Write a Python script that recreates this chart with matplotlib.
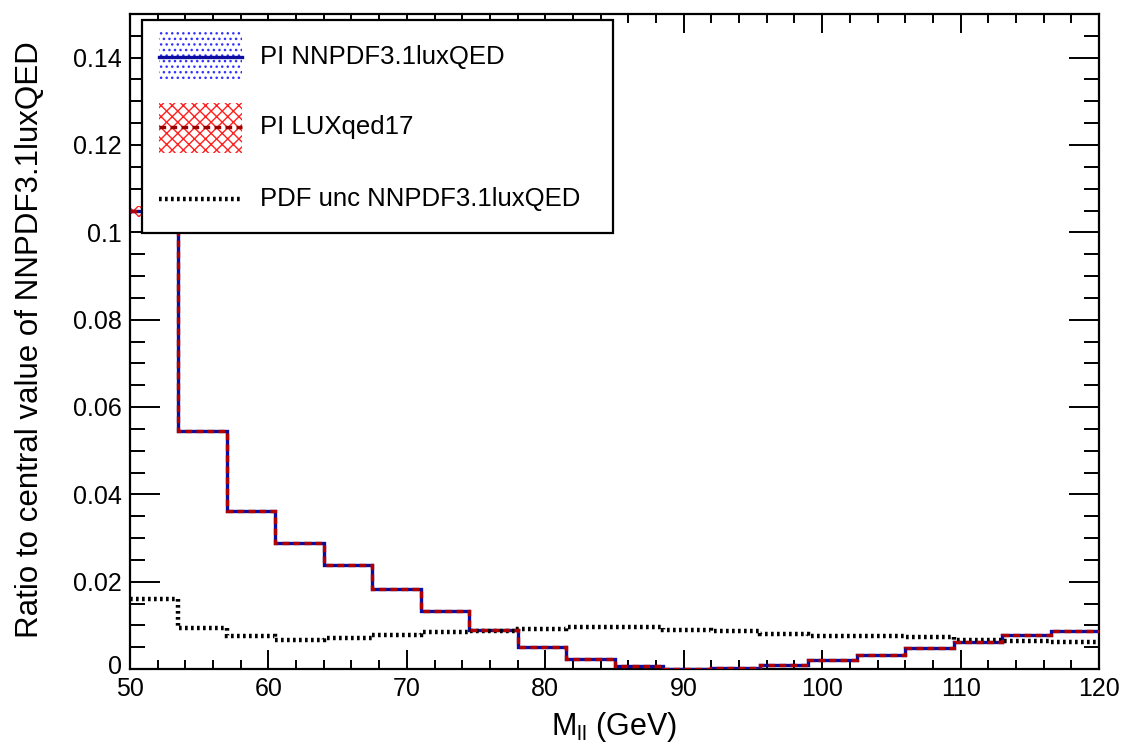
import numpy as np
import matplotlib
matplotlib.use("Agg")
import matplotlib.pyplot as plt
import matplotlib.transforms as mtransforms
from matplotlib.patches import Rectangle
from matplotlib.lines import Line2D
from matplotlib.ticker import MultipleLocator

# Bin edges in M_ll (GeV): 20 bins of 3.5 GeV from 50 to 120
bin_edges = np.linspace(50.0, 120.0, 21)

# Photon-induced contribution, ratio to NNPDF3.1luxQED central value
pi_nnpdf = [0.1048, 0.0545, 0.0362, 0.0289, 0.0238, 0.0183, 0.0133, 0.0089, 0.0050, 0.0023,
            0.0008, 0.0001, 0.0002, 0.0009, 0.0020, 0.0031, 0.0047, 0.0062, 0.0077, 0.0088]
pi_nnpdf_err = [0.0008, 0.0002, 0.0001, 0.0001, 0.0001, 0.0001, 0.0001, 0.0001, 0.0001, 0.0001,
                0.0001, 0.0001, 0.0001, 0.0001, 0.0001, 0.0001, 0.0001, 0.0001, 0.0001, 0.0001]
pi_luxqed = [0.1048, 0.0545, 0.0362, 0.0289, 0.0238, 0.0183, 0.0133, 0.0089, 0.0050, 0.0023,
             0.0008, 0.0001, 0.0002, 0.0009, 0.0020, 0.0031, 0.0047, 0.0062, 0.0077, 0.0088]
pi_luxqed_err = [0.0013, 0.0003, 0.0002, 0.0001, 0.0001, 0.0001, 0.0001, 0.0001, 0.0001, 0.0001,
                 0.0001, 0.0001, 0.0001, 0.0001, 0.0001, 0.0001, 0.0001, 0.0001, 0.0001, 0.0001]
# PDF uncertainty of NNPDF3.1luxQED
pdf_unc = [0.0160, 0.0095, 0.0076, 0.0066, 0.0070, 0.0077, 0.0085, 0.0087, 0.0092, 0.0097,
           0.0097, 0.0089, 0.0086, 0.0080, 0.0076, 0.0075, 0.0074, 0.0066, 0.0063, 0.0062]

labels = ["PI NNPDF3.1luxQED", "PI LUXqed17", "PDF unc NNPDF3.1luxQED"]

plt.rcParams["font.family"] = ["Liberation Sans", "DejaVu Sans"]
plt.rcParams["hatch.linewidth"] = 1.0
plt.rcParams["mathtext.fontset"] = "custom"
plt.rcParams["mathtext.rm"] = "Liberation Sans"
plt.rcParams["mathtext.it"] = "Liberation Sans"

BLUE = "#0c0ca0"
DRED = "#b00000"

fig = plt.figure(figsize=(11.21, 7.43), dpi=100)
ax = fig.add_axes([130 / 1121, 1 - 669 / 743, 969 / 1121, 655 / 743])

nn = np.array(pi_nnpdf)
ne = np.array(pi_nnpdf_err)
lx = np.array(pi_luxqed)
le = np.array(pi_luxqed_err)

# uncertainty bands
ax.stairs(nn + ne, bin_edges, baseline=nn - ne, fill=True, facecolor="none",
          edgecolor="#3030ff", hatch="...", linewidth=0, zorder=2)
ax.stairs(lx + le, bin_edges, baseline=lx - le, fill=True, facecolor="none",
          edgecolor="#ff2020", hatch="xxx", linewidth=0, zorder=2)

# central values
ax.stairs(nn, bin_edges, baseline=None, color=BLUE, linewidth=2.4, zorder=3)
ax.stairs(lx, bin_edges, baseline=None, color=DRED, linewidth=2.4,
          linestyle=(0, (2.0, 1.3)), zorder=4)
ax.stairs(pdf_unc, bin_edges, baseline=None, color="black", linewidth=3.2,
          linestyle=(0, (0.6, 0.75)), zorder=3)

ax.set_xlim(50, 120)
ax.set_ylim(0, 0.15)
ax.xaxis.set_major_locator(MultipleLocator(10))
ax.xaxis.set_minor_locator(MultipleLocator(2))
ax.yaxis.set_minor_locator(MultipleLocator(0.005))
ax.set_yticks([0, 0.02, 0.04, 0.06, 0.08, 0.1, 0.12, 0.14])
ax.set_yticklabels(["0", "0.02", "0.04", "0.06", "0.08", "0.1", "0.12", "0.14"])

for s in ax.spines.values():
    s.set_linewidth(1.6)
ax.tick_params(which="both", direction="in", top=True, right=True, width=1.4,
               labelsize=18, colors="black")
ax.tick_params(axis="x", which="major", length=14, pad=6)
ax.tick_params(axis="x", which="minor", length=6.5)
ax.tick_params(axis="y", which="major", length=21.5, pad=6)
ax.tick_params(axis="y", which="minor", length=10.5)

# lift the "0" y label a little so it clears the "50" below it
zero_label = ax.get_yticklabels()[0]
zero_label.set_transform(zero_label.get_transform() +
                         mtransforms.ScaledTranslation(0, 5 / 100, fig.dpi_scale_trans))

ax.set_xlabel(r"M$_{\mathrm{ll}}$ (GeV)", fontsize=22, labelpad=6)
ax.set_ylabel("Ratio to central value of NNPDF3.1luxQED", fontsize=22.5,
              ha="center", va="center")
ax.yaxis.set_label_coords(-100 / 969, (669 - 340) / 655)

# legend box
def fx(px):
    return (px - 130) / 969.0

def fy(py):
    return (669 - py) / 655.0

ax.add_patch(Rectangle((fx(142), fy(233)), fx(613) - fx(142), fy(20) - fy(233),
                       transform=ax.transAxes, facecolor="white", edgecolor="black",
                       linewidth=1.6, zorder=10, clip_on=False))
sx0, sx1 = fx(159), fx(242)
# entry 1
ax.add_patch(Rectangle((sx0, fy(82)), sx1 - sx0, fy(32) - fy(82), transform=ax.transAxes,
                       facecolor="none", edgecolor="#3030ff", hatch="...", linewidth=0,
                       zorder=11, clip_on=False))
ax.add_line(Line2D([sx0, sx1], [fy(57), fy(57)], transform=ax.transAxes, color=BLUE,
                   linewidth=2.4, zorder=12, clip_on=False))
# entry 2
ax.add_patch(Rectangle((sx0, fy(153)), sx1 - sx0, fy(103) - fy(153), transform=ax.transAxes,
                       facecolor="none", edgecolor="#ff2020", hatch="xxx", linewidth=0,
                       zorder=11, clip_on=False))
ax.add_line(Line2D([sx0, sx1], [fy(127), fy(127)], transform=ax.transAxes, color="#990000",
                   linewidth=2.4, linestyle=(0, (2.0, 1.3)), zorder=12, clip_on=False))
# entry 3
ax.add_line(Line2D([sx0, sx1], [fy(199), fy(199)], transform=ax.transAxes, color="black",
                   linewidth=3.2, linestyle=(0, (0.6, 0.75)), zorder=12, clip_on=False))

for lab, py in zip(labels, [57, 127, 199]):
    ax.text(fx(260), fy(py), lab, transform=ax.transAxes, fontsize=18.5,
            va="center", ha="left", zorder=13)

fig.savefig("out.png", dpi=100)
